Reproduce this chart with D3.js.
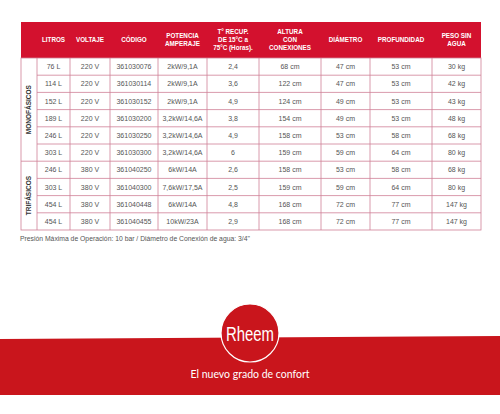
<!DOCTYPE html><html><head><meta charset="utf-8"><script src="https://cdn.jsdelivr.net/npm/d3@7"></script>
<style>body{margin:0;background:#fff}</style></head><body><svg id="c" width="500" height="414"></svg>
<script>
const headers=[["LITROS"],["VOLTAJE"],["CÓDIGO"],["POTENCIA","AMPERAJE"],["T° RECUP.","DE 15°C a","75°C (Horas)."],["ALTURA","CON","CONEXIONES"],["DIÁMETRO"],["PROFUNDIDAD"],["PESO SIN","AGUA"]];
const litros=["76 L","114 L","152 L","189 L","246 L","303 L","246 L","303 L","454 L","454 L"];
const voltaje=["220 V","220 V","220 V","220 V","220 V","220 V","380 V","380 V","380 V","380 V"];
const codigo=["361030076","361030114","361030152","361030200","361030250","361030300","361040250","361040300","361040448","361040455"];
const potencia=["2kW/9,1A","2kW/9,1A","2kW/9,1A","3,2kW/14,6A","3,2kW/14,6A","3,2kW/14,6A","6kW/14A","7,6kW/17,5A","6kW/14A","10kW/23A"];
const recup=["2,4","3,6","4,9","3,8","4,9","6","2,6","2,5","4,8","2,9"];
const altura=["68 cm","122 cm","124 cm","154 cm","158 cm","159 cm","158 cm","159 cm","168 cm","168 cm"];
const diametro=["47 cm","47 cm","49 cm","49 cm","53 cm","59 cm","53 cm","59 cm","72 cm","72 cm"];
const profundidad=["53 cm","53 cm","53 cm","53 cm","58 cm","64 cm","58 cm","64 cm","77 cm","77 cm"];
const peso=["30 kg","42 kg","43 kg","48 kg","68 kg","80 kg","68 kg","80 kg","147 kg","147 kg"];
const groups=[{name:"MONOFÁSICOS",start:0,end:6},{name:"TRIFÁSICOS",start:6,end:10}];
const cols=[litros,voltaje,codigo,potencia,recup,altura,diametro,profundidad,peso];
const edges=[21,37,70,110,158,207,259,321,370,432,481];
const svg=d3.select("#c");
const red="#d3112e",grid="#cf8097",txt="#555";
const y=d3.scaleLinear().domain([0,10]).range([58,230]);
svg.append("rect").attr("x",edges[0]).attr("y",22).attr("width",edges[10]-edges[0]).attr("height",36).attr("fill",red);
headers.forEach((h,i)=>{const cx=(edges[i+1]+edges[i+2])/2;const t=svg.append("text").attr("x",cx).attr("text-anchor","middle").attr("fill","#fff").attr("font-family","Liberation Sans, Arial").attr("font-weight","bold").attr("font-size",6.3);
 const y0=40-(h.length-1)*4+2;h.forEach((l,j)=>t.append("tspan").attr("x",cx).attr("y",y0+j*8).text(l));});
const g=svg.append("g").attr("stroke",grid).attr("stroke-width",0.8).attr("fill","none");
g.append("rect").attr("x",edges[0]).attr("y",y(0)).attr("width",edges[10]-edges[0]).attr("height",y(10)-y(0));
for(let r=1;r<10;r++){g.append("line").attr("x1",r===6?edges[0]:edges[1]).attr("x2",edges[10]).attr("y1",y(r)).attr("y2",y(r));}
edges.slice(1,10).forEach(x=>g.append("line").attr("x1",x).attr("x2",x).attr("y1",y(0)).attr("y2",y(10)));
cols.forEach((c,i)=>{const cx=(edges[i+1]+edges[i+2])/2;c.forEach((v,r)=>svg.append("text").attr("x",cx).attr("y",(y(r)+y(r+1))/2+2.5).attr("text-anchor","middle").attr("fill",txt).attr("font-family","Liberation Sans, Arial").attr("font-size",7).text(v));});
groups.forEach(gr=>{const cy=(y(gr.start)+y(gr.end))/2;svg.append("text").attr("transform",`translate(31,${cy}) rotate(-90)`).attr("text-anchor","middle").attr("fill","#333").attr("font-family","Liberation Sans, Arial").attr("font-weight","bold").attr("font-size",6.5).text(gr.name);});
svg.append("text").attr("x",20).attr("y",241).attr("fill",txt).attr("font-family","Liberation Sans, Arial").attr("font-size",6.8).text("Presión Máxima de Operación: 10 bar / Diámetro de Conexión de agua: 3/4\"");
svg.append("path").attr("d","M0,339 L500,336 L500,395 L0,395 Z").attr("fill","#c9151c");
svg.append("circle").attr("cx",250).attr("cy",333).attr("r",29).attr("fill","#c9151c").attr("stroke","#fff").attr("stroke-width",1.2);
svg.append("text").attr("x",250).attr("y",341).attr("text-anchor","middle").attr("fill","#fff").attr("font-family","Liberation Sans Narrow, Liberation Sans").attr("font-size",20).attr("textLength",48).attr("lengthAdjust","spacingAndGlyphs").text("Rheem");
svg.append("text").attr("x",250).attr("y",378).attr("text-anchor","middle").attr("fill","#fff").attr("font-family","Lato, Noto Sans").attr("font-size",10.5).text("El nuevo grado de confort");
</script></body></html>
